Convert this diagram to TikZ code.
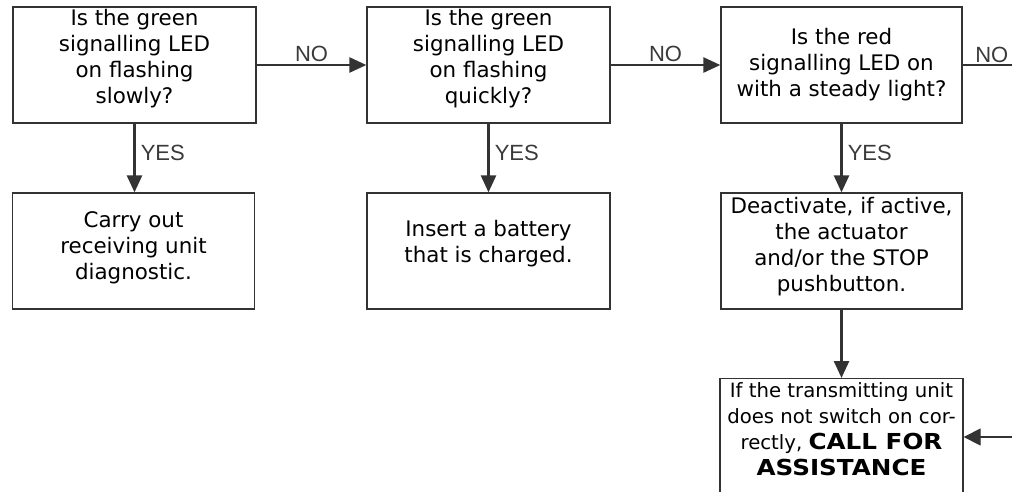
\documentclass[tikz,border=0pt]{standalone}
\usepackage{fontspec}
\setmainfont{DejaVu Sans}
\newfontfamily\labelfont{Liberation Sans}
\newfontfamily\boldwide[FakeStretch=1.12]{DejaVu Sans}
\usetikzlibrary{arrows.meta}
\definecolor{edge}{HTML}{333333}
\definecolor{lbl}{HTML}{3A3A3A}
\tikzset{
  box/.style={draw=edge, line width=1.3pt, rectangle, align=center, inner sep=2pt,
    font=\fontsize{21.4}{26}\selectfont, text=black},
  arr/.style={draw=edge, line width=2.6pt, -{Triangle[length=17pt,width=15pt]}},
  plain/.style={draw=edge, line width=1.3pt},
  lab/.style={font=\labelfont\fontsize{22}{24}\selectfont, text=lbl, inner sep=0pt}
}
\begin{document}
\begin{tikzpicture}[x=1pt,y=-1pt]
\useasboundingbox (0,0) rectangle (1012,491);
\clip (0,0) rectangle (1012,491);
\fill[white] (0,0) rectangle (1012,491);
\node[box, minimum width=243pt, minimum height=116pt, text depth=17pt] (q1) at (134.5,65)
  {Is the green\\signalling LED\\on flashing\\slowly?};
\node[box, minimum width=243pt, minimum height=116pt, text depth=17pt] (q2) at (488.5,65)
  {Is the green\\signalling LED\\on flashing\\quickly?};
\node[box, minimum width=241pt, minimum height=116pt] (q3) at (841.5,65)
  {Is the red\\signalling LED on\\with a steady light?};
\node[box, minimum width=242pt, minimum height=116pt, text depth=11pt] (a1) at (133.5,251)
  {Carry out\\receiving unit\\diagnostic.};
\node[box, minimum width=243pt, minimum height=116pt, text depth=19pt] (a2) at (488.5,251)
  {Insert a battery\\that is charged.};
\node[box, minimum width=241pt, minimum height=116pt, text depth=14pt] (a3) at (841.5,251)
  {Deactivate, if active,\\the actuator\\and/or the STOP\\pushbutton.};
\node[box, font=\fontsize{19.7}{26}\selectfont, minimum width=243pt, anchor=north, inner ysep=4pt,
  text depth=30pt] (a4) at (841.5,378)
  {If the transmitting unit\\does not switch on cor-\\rectly, {\boldwide\bfseries\fontsize{22}{26}\selectfont CALL FOR}\\{\boldwide\bfseries\fontsize{22}{26}\selectfont ASSISTANCE}};
\coordinate (outR) at (1013,63);
\coordinate (inR) at (1013,437);
\draw[arr] (q1.east) -- node[lab, above=2pt] {NO} (q2.west);
\draw[arr] (q2.east) -- node[lab, above=2pt] {NO} (q3.west);
\draw[plain] (q3.east) -- node[lab, above=2pt, pos=0.58] {NO} (q3.east -| outR);
\draw[arr] (q1.south) -- node[lab, right=5pt, pos=0.42] {YES} (a1.north -| q1.south);
\draw[arr] (q2.south) -- node[lab, right=5pt, pos=0.42] {YES} (a2.north -| q2.south);
\draw[arr] (q3.south) -- node[lab, right=5pt, pos=0.42] {YES} (a3.north -| q3.south);
\draw[arr] (a3.south) -- (a4.north);
\draw[plain, -{Triangle[length=17pt,width=17pt]}] (inR) -- (inR -| a4.east);
\end{tikzpicture}
\end{document}
